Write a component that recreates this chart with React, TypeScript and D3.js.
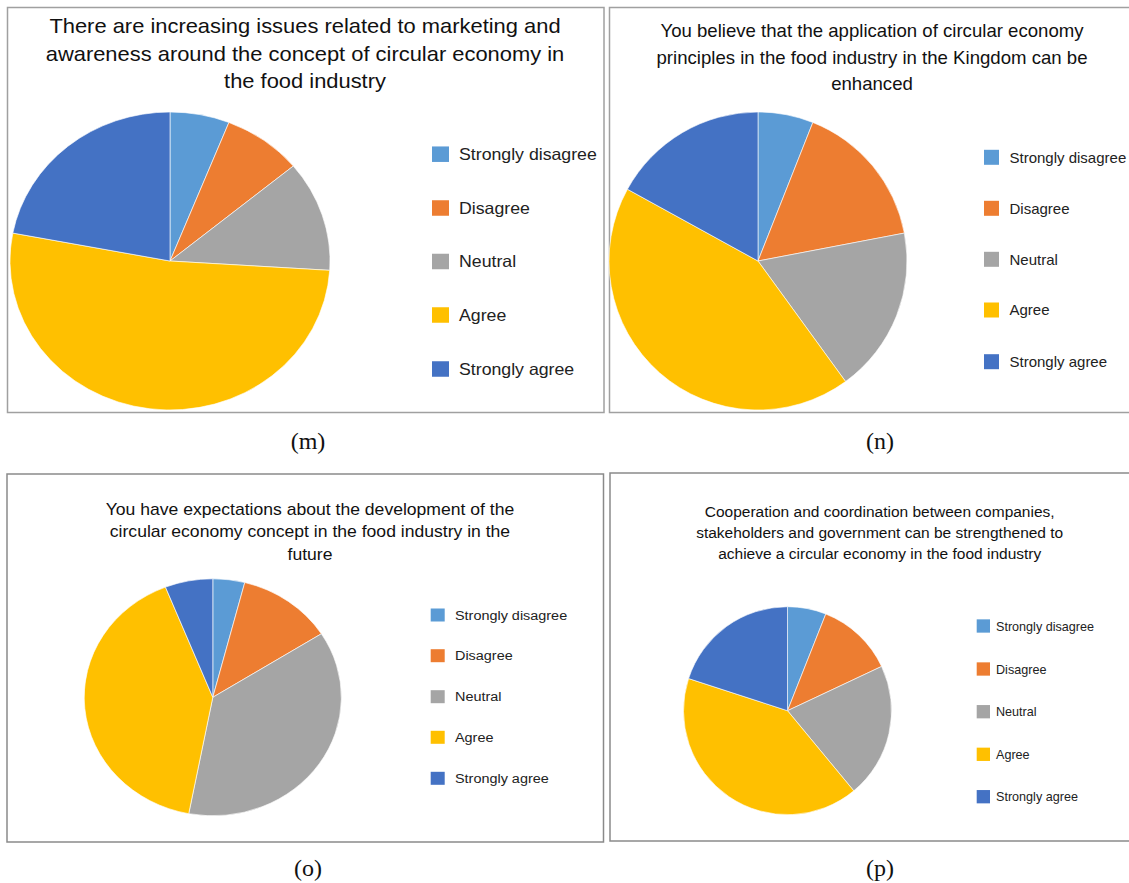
import React from "react";
import * as d3 from "d3";

const categories = ["Strongly disagree", "Disagree", "Neutral", "Agree", "Strongly agree"];
const sliceColors = ["#5B9BD5", "#ED7D31", "#A5A5A5", "#FFC000", "#4472C4"];

const valuesM = [6, 8, 12, 52, 22];
const valuesN = [6, 16, 18, 43, 17];
const valuesO = [4, 12, 37, 41, 6];
const valuesP = [6, 12, 21, 41, 20];

const titleM = [
  "There are increasing issues related to marketing and",
  "awareness around the concept of circular economy in",
  "the food industry",
];
const titleN = [
  "You believe that the application of circular economy",
  "principles in the food industry in the Kingdom can be",
  "enhanced",
];
const titleO = [
  "You have expectations about the development of the",
  "circular economy concept in the food industry in the",
  "future",
];
const titleP = [
  "Cooperation and coordination between companies,",
  "stakeholders and government can be strengthened to",
  "achieve a circular economy in the food industry",
];

const panelLabels = ["(m)", "(n)", "(o)", "(p)"];

type Layout = {
  values: number[];
  title: string[];
  label: string;
  border: [number, number, number, number];
  borderColor: string;
  ox: number;
  sx: number;
  cx: number;
  cy: number;
  r: number;
  titleX: number;
  titleY: number[];
  titleSize: number;
  legSqX: number;
  legSqW: number;
  legSqH: number;
  legTextX: number;
  legY: number[];
  legSize: number;
  labelX: number;
  labelY: number;
};

const layouts: Layout[] = [
  {
    values: valuesM, title: titleM, label: panelLabels[0],
    border: [7.5, 7.5, 604, 412.5], borderColor: "#a0a0a0",
    ox: 7, sx: 1.074, cx: 170, cy: 261, r: 149,
    titleX: 305, titleY: [33.5, 61, 88.5], titleSize: 20.4,
    legSqX: 432, legSqW: 17, legSqH: 15.5, legTextX: 459,
    legY: [154.2, 208, 261.5, 315, 369], legSize: 16.5,
    labelX: 308, labelY: 449,
  },
  {
    values: valuesN, title: titleN, label: panelLabels[1],
    border: [609.5, 7.5, 1135, 412.5], borderColor: "#a0a0a0",
    ox: 609.5, sx: 1, cx: 758, cy: 261, r: 149,
    titleX: 872, titleY: [37, 63.5, 89.5], titleSize: 18.6,
    legSqX: 984, legSqW: 15, legSqH: 15, legTextX: 1009.5,
    legY: [157.3, 208.3, 259.3, 310, 361.7], legSize: 15,
    labelX: 880, labelY: 449,
  },
  {
    values: valuesO, title: titleO, label: panelLabels[2],
    border: [7, 474, 603.5, 842], borderColor: "#8a8a8a",
    ox: 7, sx: 1.085, cx: 212.8, cy: 697.3, r: 118.5,
    titleX: 310, titleY: [515, 537.5, 560], titleSize: 16.2,
    legSqX: 430.7, legSqW: 14, legSqH: 13, legTextX: 455,
    legY: [615, 655.7, 696.7, 737.3, 778.3], legSize: 13.3,
    labelX: 308, labelY: 876,
  },
  {
    values: valuesP, title: titleP, label: panelLabels[3],
    border: [610, 473, 1135, 841], borderColor: "#8a8a8a",
    ox: 610, sx: 1, cx: 787.5, cy: 710.7, r: 104,
    titleX: 879.7, titleY: [516.5, 537.7, 559], titleSize: 15.5,
    legSqX: 976.7, legSqW: 13.3, legSqH: 13.3, legTextX: 996,
    legY: [626, 669, 711.7, 754.3, 796.7], legSize: 12.6,
    labelX: 880, labelY: 876,
  },
];

const SANS = "'Liberation Sans', Arial, Helvetica, sans-serif";
const SERIF = "'Liberation Serif', 'DejaVu Serif', serif";

function Panel({ L }: { L: Layout }) {
  const pie = d3.pie<number>().sort(null).value((d) => d);
  const arcs = pie(L.values);
  const arc = d3.arc<d3.PieArcDatum<number>>().innerRadius(0).outerRadius(L.r);
  const ix = (x: number) => (x - L.ox) / L.sx;
  const [x0, y0, x1, y1] = L.border;
  return (
    <g>
      <rect x={x0} y={y0} width={x1 - x0} height={y1 - y0} fill="#fff" stroke={L.borderColor} strokeWidth={1.5} />
      <g transform={`translate(${L.ox},0) scale(${L.sx},1)`}>
        {L.title.map((t, i) => (
          <text key={i} x={ix(L.titleX)} y={L.titleY[i]} textAnchor="middle" fontFamily={SANS} fontSize={L.titleSize} fill="#111">
            {t}
          </text>
        ))}
        <g transform={`translate(${ix(L.cx)},${L.cy})`}>
          {arcs.map((a, i) => (
            <path key={i} d={arc(a) || ""} fill={sliceColors[i]} stroke="#fff" strokeWidth={0.6} />
          ))}
        </g>
        {categories.map((c, i) => (
          <g key={c}>
            <rect x={ix(L.legSqX)} y={L.legY[i] - L.legSqH / 2} width={L.legSqW / L.sx} height={L.legSqH} fill={sliceColors[i]} />
            <text x={ix(L.legTextX)} y={L.legY[i] + L.legSize * 0.36} fontFamily={SANS} fontSize={L.legSize} fill="#222">
              {c}
            </text>
          </g>
        ))}
      </g>
      <text x={L.labelX} y={L.labelY} textAnchor="middle" fontFamily={SERIF} fontSize={24} fill="#111">
        {L.label}
      </text>
    </g>
  );
}

export default function App() {
  return (
    <svg width={1129} height={883} style={{ position: "absolute", left: 0, top: 0, background: "#fff" }}>
      <rect x={0} y={0} width={1129} height={883} fill="#fff" />
      {layouts.map((L, i) => (
        <Panel key={i} L={L} />
      ))}
    </svg>
  );
}
